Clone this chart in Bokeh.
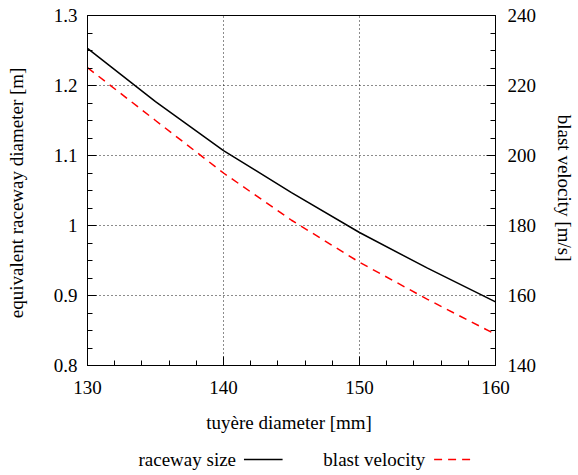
from bokeh.plotting import figure
from bokeh.layouts import column
from bokeh.models import (Range1d, LinearAxis, SingleIntervalTicker, CustomJSTickFormatter)
from bokeh.core.properties import value
from bokeh.embed import file_html
from bokeh.resources import INLINE

# data
tuyere_mm = [130, 135, 140, 145, 150, 155, 160]
raceway_m = [1.253, 1.177, 1.107, 1.047, 0.990, 0.939, 0.891]
blast_ms = [225.1, 210.0, 195.0, 181.5, 169.5, 158.9, 148.9]

x_label = "tuyère diameter  [mm]"
y_label = "equivalent raceway diameter  [m]"
y2_label = "blast velocity  [m/s]"
series_names = ["raceway size", "blast velocity"]
series_colors = ["black", "red"]
series_dash = ["solid", "8 6"]

FONT = "Liberation Serif"
FS = "19px"
W, H_MAIN, H_LEG = 578, 435, 40
BL, BR = 87, 79

p = figure(width=W, height=H_MAIN, x_range=Range1d(130, 160), y_range=Range1d(0.8, 1.3),
           output_backend="svg", toolbar_location=None,
           min_border_left=BL, min_border_right=BR, min_border_top=15, min_border_bottom=70)
p.extra_y_ranges = {"v": Range1d(140, 240)}

p.outline_line_color = "black"
p.outline_line_width = 1
p.outline_line_alpha = 1
p.background_fill_color = "white"
p.border_fill_color = "white"

p.xaxis.ticker = SingleIntervalTicker(interval=10, num_minor_ticks=5)
p.yaxis.ticker = SingleIntervalTicker(interval=0.1, num_minor_ticks=4)
p.yaxis.formatter = CustomJSTickFormatter(code="return Number(tick.toFixed(2)).toString();")

y2 = LinearAxis(y_range_name="v", ticker=SingleIntervalTicker(interval=20, num_minor_ticks=4))
p.add_layout(y2, "right")

p.xaxis.axis_label = x_label
p.yaxis.axis_label = y_label
y2.axis_label = y2_label

for ax in [p.xaxis[0], p.yaxis[0], y2]:
    ax.axis_line_color = "black"
    ax.major_tick_line_color = "black"
    ax.minor_tick_line_color = "black"
    ax.major_tick_in = 9
    ax.major_tick_out = 0
    ax.minor_tick_in = 5
    ax.minor_tick_out = 0
    ax.major_label_text_font = FONT
    ax.major_label_text_font_size = FS
    ax.major_label_text_color = "black"
    ax.axis_label_text_font = FONT
    ax.axis_label_text_font_size = FS
    ax.axis_label_text_font_style = "normal"
    ax.axis_label_text_color = "black"

p.xaxis.major_label_standoff = 15
p.xaxis.axis_label_standoff = 15
p.yaxis.major_label_standoff = 10
p.yaxis.axis_label_standoff = 24
y2.major_label_standoff = 12
y2.axis_label_standoff = 15

p.xgrid.ticker = SingleIntervalTicker(interval=10)
p.ygrid.ticker = SingleIntervalTicker(interval=0.1)
for g in [p.xgrid[0], p.ygrid[0]]:
    g.grid_line_color = "black"
    g.grid_line_dash = "1 3"
    g.grid_line_width = 1
    g.grid_line_alpha = 0.9

p.line(tuyere_mm, raceway_m, line_color=series_colors[0], line_width=1.5)
p.line(tuyere_mm, blast_ms, y_range_name="v", line_color=series_colors[1], line_width=1.5,
       line_dash=series_dash[1])

# legend strip below the plot: label followed by a line sample.
# column() aligns its frame with the main plot's frame, so its x range is
# expressed in page pixels of that frame span.
leg = figure(width=W, height=H_LEG, x_range=Range1d(BL, W - BR), y_range=Range1d(0, H_LEG),
             output_backend="svg", toolbar_location=None,
             min_border_left=BL, min_border_right=BR, min_border_top=0, min_border_bottom=0)
leg.axis.visible = False
leg.grid.visible = False
leg.outline_line_color = None
leg.background_fill_color = "white"
leg.border_fill_color = "white"

text_right = [237, 428]
sample_x0 = [245, 437]
sample_x1 = [284, 474]
yc = 16
leg.text(x=text_right, y=[yc, yc], text=series_names, text_font=value(FONT),
         text_font_size=value(FS), text_align="right", text_baseline="middle", text_color="black")
for i in range(2):
    leg.segment(x0=[sample_x0[i]], y0=[yc], x1=[sample_x1[i]], y1=[yc],
                line_color=series_colors[i], line_width=1.5, line_dash=series_dash[i])

layout = column(p, leg, spacing=0)
open("out.html", "w").write(file_html(layout, INLINE))
